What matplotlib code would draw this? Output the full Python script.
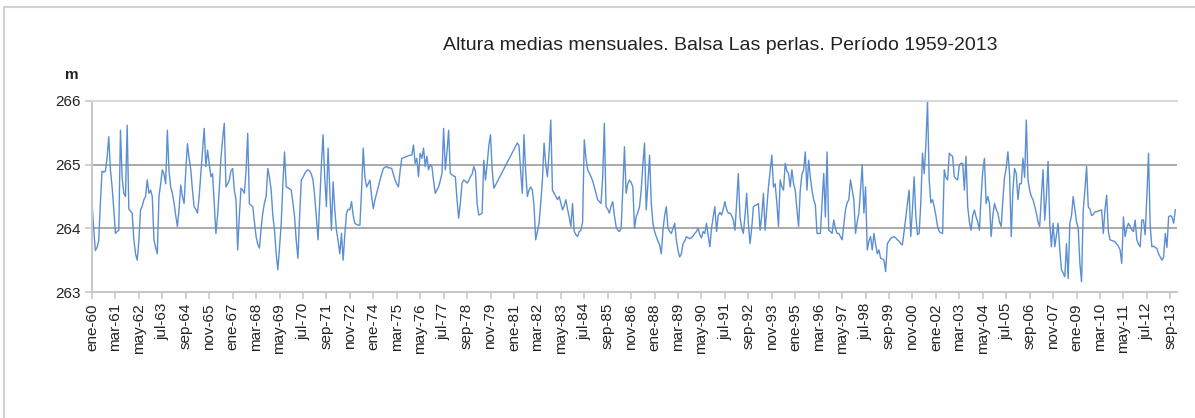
import numpy as np
import matplotlib
matplotlib.use("Agg")
import matplotlib.pyplot as plt
from matplotlib.patches import Rectangle

# ---------------- data (monthly mean level, m) ----------------
alt_1960s = [
    264.40, 264.00, 263.65, 263.70, 263.80, 264.40, 264.90, 264.88, 264.90, 265.10, 265.44, 264.92,
    264.65, 264.30, 263.92, 263.95, 263.97, 265.54, 264.80, 264.55, 264.50, 265.62, 264.30, 264.27,
    264.24, 263.82, 263.60, 263.50, 263.80, 264.29, 264.35, 264.45, 264.50, 264.76, 264.55, 264.60,
    264.50, 263.82, 263.70, 263.60, 264.50, 264.70, 264.92, 264.85, 264.70, 265.54, 264.90, 264.65,
    264.55, 264.40, 264.20, 264.03, 264.30, 264.68, 264.50, 264.39, 264.90, 265.33, 265.10, 264.92,
    264.60, 264.34, 264.30, 264.24, 264.50, 264.86, 265.20, 265.57, 264.97, 265.23, 265.02, 264.81,
    264.86, 264.40, 263.92, 264.20, 264.60, 265.10, 265.40, 265.65, 264.65, 264.70, 264.76, 264.90,
    264.94, 264.60, 264.45, 263.66, 264.20, 264.63, 264.60, 264.55, 264.90, 265.49, 264.39, 264.36,
    264.34, 264.10, 263.87, 263.75, 263.69, 264.00, 264.24, 264.40, 264.50, 264.94, 264.80, 264.60,
    264.20, 263.97, 263.60, 263.35, 263.70, 264.08, 264.70, 265.20, 264.65, 264.64, 264.62, 264.60,
]
alt_1970s = [
    264.40, 264.18, 263.80, 263.53, 264.20, 264.76, 264.80, 264.86, 264.90, 264.92, 264.90, 264.85,
    264.76, 264.50, 264.18, 263.82, 264.40, 265.00, 265.47, 264.80, 264.34, 265.26, 264.60, 263.97,
    264.73, 264.30, 263.97, 263.80, 263.60, 263.92, 263.50, 263.90, 264.24, 264.30, 264.29, 264.42,
    264.20, 264.08, 264.06, 264.05, 264.05, 264.60, 265.26, 264.80, 264.65, 264.70, 264.76, 264.50,
    264.31, 264.45, 264.55, 264.65, 264.76, 264.85, 264.94, 264.96, 264.97, 264.95, 264.95, 264.94,
    264.85, 264.76, 264.70, 264.65, 264.90, 265.10, 265.11, 265.12, 265.13, 265.14, 265.15, 265.15,
    265.31, 265.02, 265.10, 264.81, 265.18, 265.10, 265.26, 264.97, 265.13, 264.92, 265.00, 264.97,
    264.75, 264.55, 264.60, 264.65, 264.75, 264.86, 265.57, 264.92, 265.20, 265.54, 264.86, 264.84,
    264.82, 264.81, 264.45, 264.16, 264.40, 264.71, 264.76, 264.74, 264.71, 264.75, 264.81, 264.85,
    264.97, 264.90, 264.39, 264.21, 264.22, 264.24, 265.07, 264.76, 265.00, 265.30, 265.47, 264.92,
]
alt_1980s = [
    264.63, np.nan, np.nan, np.nan, np.nan, np.nan, np.nan, np.nan, np.nan, np.nan, np.nan, np.nan,
    np.nan, np.nan, 265.34, 265.30, 264.90, 264.55, 265.47, 264.90, 264.50, 264.60, 264.65, 264.60,
    264.35, 263.82, 263.95, 264.08, 264.40, 264.76, 265.34, 265.00, 264.81, 265.20, 265.70, 264.60,
    264.55, 264.50, 264.45, 264.50, 264.40, 264.29, 264.35, 264.45, 264.30, 264.18, 264.03, 264.39,
    263.95, 263.90, 263.87, 263.95, 263.97, 264.10, 265.39, 265.10, 264.92, 264.87, 264.81, 264.75,
    264.65, 264.55, 264.45, 264.42, 264.39, 264.80, 265.65, 264.34, 264.30, 264.24, 264.35, 264.42,
    264.20, 264.03, 263.97, 263.95, 264.00, 264.60, 265.28, 264.55, 264.70, 264.76, 264.72, 264.65,
    264.00, 264.18, 264.25, 264.34, 264.60, 265.00, 265.34, 264.29, 264.70, 265.15, 264.40, 264.08,
    263.95, 263.87, 263.80, 263.74, 263.60, 263.97, 264.20, 264.34, 264.00, 263.95, 263.92, 264.00,
    264.08, 263.82, 263.65, 263.55, 263.60, 263.76, 263.80, 263.87, 263.85, 263.84, 263.85, 263.88,
]
alt_1990s = [
    263.92, 263.95, 264.00, 263.90, 263.85, 263.95, 263.92, 264.08, 263.90, 263.71, 264.00, 264.18,
    264.34, 263.95, 264.20, 264.25, 264.21, 264.30, 264.42, 264.30, 264.24, 264.24, 264.20, 264.13,
    263.97, 264.40, 264.86, 264.18, 264.00, 263.92, 264.20, 264.55, 264.08, 263.76, 264.00, 264.34,
    264.36, 264.37, 264.39, 263.97, 264.20, 264.55, 263.97, 264.30, 264.65, 264.90, 265.15, 264.65,
    264.70, 264.40, 264.03, 264.76, 264.65, 264.60, 265.02, 264.90, 264.86, 264.65, 264.92, 264.70,
    264.60, 264.30, 264.03, 264.60, 264.85, 264.92, 265.20, 264.60, 265.07, 264.80, 264.60, 264.45,
    264.37, 263.92, 263.92, 263.92, 264.40, 264.86, 264.18, 265.20, 263.97, 263.95, 263.92, 264.13,
    264.00, 263.92, 263.92, 263.87, 263.82, 264.05, 264.29, 264.40, 264.45, 264.76, 264.60, 264.45,
    263.92, 264.10, 264.24, 264.60, 265.00, 264.24, 264.65, 263.66, 263.80, 263.87, 263.66, 263.92,
    263.75, 263.60, 263.66, 263.53, 263.52, 263.50, 263.32, 263.76, 263.80, 263.84, 263.86, 263.87,
]
alt_2000s = [
    263.85, 263.82, 263.80, 263.76, 263.74, 263.95, 264.16, 264.39, 264.60, 263.87, 264.30, 264.81,
    264.20, 263.90, 263.92, 264.40, 265.18, 264.86, 265.30, 265.99, 264.76, 264.40, 264.45, 264.34,
    264.20, 264.03, 263.95, 263.93, 263.92, 264.92, 264.80, 264.76, 265.18, 265.15, 265.13, 264.81,
    264.78, 264.76, 265.00, 265.02, 265.02, 264.60, 265.13, 264.34, 264.10, 263.97, 264.20, 264.29,
    264.18, 264.10, 263.97, 264.50, 264.90, 265.10, 264.39, 264.50, 264.39, 263.87, 264.20, 264.39,
    264.30, 264.24, 264.10, 264.03, 264.45, 264.80, 264.95, 265.20, 264.86, 263.87, 264.60, 264.94,
    264.86, 264.45, 264.70, 264.70, 265.10, 264.80, 265.70, 264.76, 264.60, 264.50, 264.45, 264.35,
    264.24, 264.10, 264.03, 264.50, 264.92, 264.13, 264.50, 265.05, 264.08, 263.71, 264.08, 263.71,
    263.90, 264.08, 263.66, 263.35, 263.30, 263.24, 263.76, 263.21, 264.08, 264.20, 264.50, 264.30,
    264.10, 264.00, 263.45, 263.16, 264.29, 264.60, 264.97, 264.34, 264.30, 264.20, 264.22, 264.26,
]
alt_2010s = [
    264.26, 264.27, 264.28, 264.29, 263.92, 264.30, 264.52, 263.95, 263.82, 263.81, 263.80, 263.79,
    263.75, 263.72, 263.66, 263.45, 264.18, 263.87, 264.00, 264.08, 264.03, 263.98, 263.95, 264.13,
    263.82, 263.75, 263.71, 264.13, 264.13, 263.90, 264.50, 265.18, 264.03, 263.71, 263.72, 263.70,
    263.68, 263.60, 263.55, 263.50, 263.55, 263.92, 263.70, 264.18, 264.20, 264.18, 264.08, 264.29,
]

first_year = 1960
meses = ["ene", "feb", "mar", "abr", "may", "jun", "jul", "ago", "sep", "oct", "nov", "dic"]
label_step = 14
y_ticks = [263, 264, 265, 266]

titulo = "Altura medias mensuales. Balsa Las perlas. Período 1959-2013"
unidad = "m"

# ---------------- build ----------------
alturas = np.array(alt_1960s + alt_1970s + alt_1980s + alt_1990s + alt_2000s + alt_2010s, dtype=float)
n = len(alturas)
idx = np.arange(n)
categorias = [f"{meses[i % 12]}-{(first_year + i // 12) % 100:02d}" for i in range(n)]
tick_pos = list(range(0, n, label_step))
tick_lab = [categorias[i] for i in tick_pos]

plt.rcParams["font.family"] = ["Liberation Sans", "DejaVu Sans"]

W, H = 1195, 418
fig = plt.figure(figsize=(W / 100, H / 100), dpi=100)
fig.patch.set_facecolor("white")

# outer chart frame
fig.patches.append(Rectangle((4 / W, -0.05), 1.2, (H - 7) / H + 0.05, transform=fig.transFigure,
                             fill=False, edgecolor="#d0d0d0", linewidth=1.5))

L, R, T, B = 92, 1177, 101, 292
ax = fig.add_axes([L / W, (H - B) / H, (R - L) / W, (B - T) / H])

mask = ~np.isnan(alturas)
ax.plot(idx[mask], alturas[mask], color="#5b8fd1", linewidth=1.0)

ax.set_xlim(0, n)
ax.set_ylim(263, 266)
ax.set_yticks(y_ticks)
ax.set_yticklabels([str(v) for v in y_ticks], fontsize=11, color="#222222")
ax.set_xticks(tick_pos)
ax.set_xticklabels(tick_lab, rotation=90, fontsize=11, color="#222222")

for v in y_ticks[1:-1]:
    ax.axhline(v, color="#9c9c9c", linewidth=1.2, zorder=0)

ax.spines["right"].set_visible(False)
ax.spines["top"].set_color("#d9d9d9")
ax.spines["top"].set_linewidth(1.5)
for s in ["left", "bottom"]:
    ax.spines[s].set_color("#c8c8c8")
    ax.spines[s].set_linewidth(1.5)
ax.tick_params(axis="both", direction="out", length=5, width=1.2, color="#c8c8c8", pad=3)

fig.text(720 / W, 1 - 45 / H, titulo, ha="center", va="center", fontsize=14, color="#222222")
fig.text(72 / W, 1 - 75 / H, unidad, ha="center", va="center", fontsize=11, fontweight="bold",
         color="#222222")

fig.savefig("out.png", dpi=100)
